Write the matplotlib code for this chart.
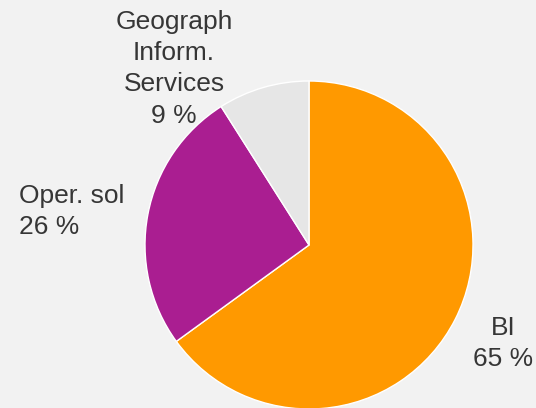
import matplotlib
matplotlib.use("Agg")
import matplotlib.pyplot as plt

categories = ["BI", "Oper. sol", "Geograph\nInform.\nServices"]
values = [65, 26, 9]
colors = ["#FF9900", "#AA1E91", "#E6E6E6"]
label_texts = [f"{c}\n{v} %" for c, v in zip(categories, values)]

W, H = 536, 408
fig = plt.figure(figsize=(W / 100, H / 100), dpi=100, facecolor="#F2F2F2")
ax = fig.add_axes([0, 0, 1, 1])
ax.set_facecolor("#F2F2F2")

cx, cy, r = 309, H - 245, 164
ax.pie(values, colors=colors, startangle=90, counterclock=False,
       center=(cx, cy), radius=r, frame=True,
       wedgeprops=dict(edgecolor="white", linewidth=1))
ax.set_xlim(0, W)
ax.set_ylim(0, H)
ax.set_aspect("auto")
ax.axis("off")

font = dict(family=["Liberation Sans", "DejaVu Sans"], fontsize=19, color="#363636",
            linespacing=1.38)
# BI
ax.text(503, H - 316, label_texts[0], ha="center", va="top", multialignment="center", **font)
# Oper. sol
ax.text(19, H - 184, label_texts[1], ha="left", va="top", multialignment="left", **font)
# Geograph
ax.text(174, H - 10, label_texts[2], ha="center", va="top", multialignment="center", **font)

fig.savefig("out.png", dpi=100, facecolor="#F2F2F2")
